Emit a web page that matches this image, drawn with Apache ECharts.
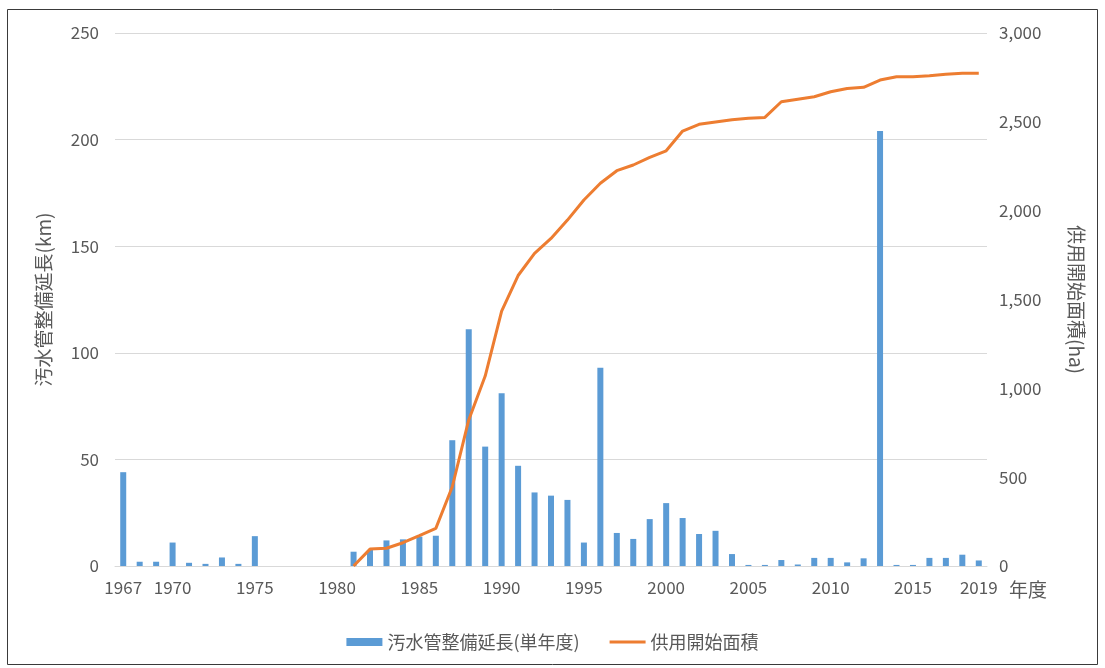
<!DOCTYPE html>
<html>
<head>
<meta charset="utf-8">
<script src="https://cdn.jsdelivr.net/npm/echarts@6/dist/echarts.min.js"></script>
<style>
  html, body { margin: 0; padding: 0; background: #fff; }
  #chart { width: 1105px; height: 668px; }
</style>
</head>
<body>
<div id="chart"></div>
<script>
// 年度 1967–2019
const years = [];
for (let y = 1967; y <= 2019; y++) years.push(String(y));

// 汚水管整備延長(単年度) km
const pipeLength = [
  44, 2, 2, 11, 1.5, 1, 4, 1, 14, 0,
  0, 0, 0, 0, 6.7, 7.5, 12, 12.5, 13.8, 14.2,
  59, 111, 56, 81, 47, 34.5, 33, 31, 11, 93,
  15.5, 12.7, 22, 29.5, 22.5, 15, 16.5, 5.6, 0.5, 0.5,
  2.8, 0.7, 3.8, 3.8, 1.7, 3.6, 204, 0.5, 0.5, 3.8,
  3.8, 5.3, 2.6
];

// 供用開始面積 ha (累計, 1981年度から)
const servedArea = [
  null, null, null, null, null, null, null, null, null, null,
  null, null, null, null, 0, 95, 100, 131, 171, 212,
  446, 822, 1069, 1435, 1635, 1760, 1844, 1947, 2060, 2154,
  2225, 2257, 2300, 2337, 2448, 2486, 2499, 2512, 2520, 2525,
  2613, 2627, 2641, 2669, 2688, 2694, 2735, 2754, 2754, 2760,
  2768, 2773, 2773
];

const leftTicks = { min: 0, max: 250, interval: 50 };
const rightTicks = { min: 0, max: 3000, interval: 500 };
const shownYears = ['1967', '1970', '1975', '1980', '1985', '1990', '1995',
  '2000', '2005', '2010', '2015', '2019'];

const textColor = '#595959';
const font = '"Noto Sans CJK JP", "Noto Sans", sans-serif';

const chart = echarts.init(document.getElementById('chart'));
chart.setOption({
  animation: false,
  textStyle: { fontFamily: font },
  graphic: [{
    type: 'rect',
    shape: { x: 7.5, y: 9.5, width: 1090, height: 655 },
    style: { fill: 'none', stroke: '#3a3a3a', lineWidth: 1 },
    silent: true
  }],
  grid: { left: 115, right: 118, top: 33, bottom: 102 },
  legend: {
    bottom: 12,
    left: 'center',
    itemGap: 30,
    itemWidth: 36,
    itemHeight: 8,
    textStyle: { color: textColor, fontSize: 18, fontFamily: font },
    data: [
      { name: '汚水管整備延長(単年度)', icon: 'rect' },
      { name: '供用開始面積', icon: 'path://M0,0 L36,0 L36,3 L0,3 Z' }
    ]
  },
  xAxis: {
    type: 'category',
    data: years,
    boundaryGap: true,
    name: '年度',
    nameLocation: 'end',
    nameGap: 22,
    nameTextStyle: {
      color: textColor, fontSize: 19, verticalAlign: 'top',
      padding: [14, 0, 0, 0]
    },
    axisLine: { lineStyle: { color: '#d9d9d9' } },
    axisTick: { show: false },
    axisLabel: {
      color: textColor,
      fontSize: 17,
      margin: 13,
      interval: (i, v) => shownYears.indexOf(v) >= 0
    }
  },
  yAxis: [{
    type: 'value',
    min: leftTicks.min, max: leftTicks.max, interval: leftTicks.interval,
    name: '汚水管整備延長(km)',
    nameLocation: 'middle',
    nameRotate: 90,
    nameGap: 62,
    nameTextStyle: { color: textColor, fontSize: 19 },
    axisLine: { show: false },
    axisTick: { show: false },
    axisLabel: { color: textColor, fontSize: 17, margin: 16 },
    splitLine: { lineStyle: { color: '#d9d9d9' } }
  }, {
    type: 'value',
    min: rightTicks.min, max: rightTicks.max, interval: rightTicks.interval,
    name: '供用開始面積(ha)',
    nameLocation: 'middle',
    nameRotate: -90,
    nameGap: 80,
    nameTextStyle: { color: textColor, fontSize: 19 },
    axisLine: { show: false },
    axisTick: { show: false },
    axisLabel: {
      color: textColor, fontSize: 17, margin: 12,
      formatter: v => v.toLocaleString('en-US')
    },
    splitLine: { show: false }
  }],
  series: [{
    name: '汚水管整備延長(単年度)',
    type: 'bar',
    yAxisIndex: 0,
    data: pipeLength,
    barWidth: 6,
    itemStyle: { color: '#5B9BD5' }
  }, {
    name: '供用開始面積',
    type: 'line',
    yAxisIndex: 1,
    data: servedArea,
    symbol: 'none',
    lineStyle: { color: '#ED7D31', width: 3 },
    itemStyle: { color: '#ED7D31' }
  }]
});
</script>
</body>
</html>
